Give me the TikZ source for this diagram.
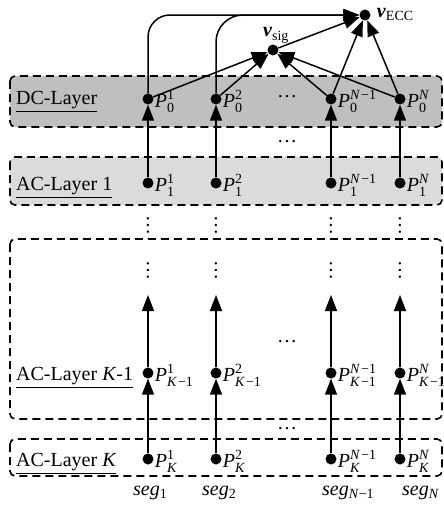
\documentclass[tikz,border=0pt]{standalone}
\usepackage{amsmath}
\usepackage{fontspec}
\setmainfont{Liberation Serif}
\usetikzlibrary{arrows.meta}

\definecolor{dcgray}{gray}{0.75}
\definecolor{acgray}{gray}{0.86}

\tikzset{
  layer/.style={draw=black, dash pattern=on 8pt off 5pt, line width=1.6pt, rounded corners=5pt},
  dot/.style={circle, fill=black, inner sep=0pt, minimum size=11pt},
  flow/.style={line width=1.5pt, -{Triangle[length=16pt,width=12pt]}},
  plab/.style={anchor=base west, inner sep=0pt, xshift=1pt, yshift=-8pt},
  lname/.style={anchor=base west, inner sep=0pt},
}
\newcommand{\pl}[2]{\textit{P}\ensuremath{^{\text{#1}}_{\text{#2}}}}
\newcommand{\vdt}{\rotatebox{90}{\ldots}}

\begin{document}
\begin{tikzpicture}[x=1pt, y=-1pt, font=\fontsize{20}{24}\selectfont]
    \useasboundingbox (0,0) rectangle (444,506);

    % layer boxes
    \draw[layer, fill=dcgray] (10,76) rectangle (442,127);
    \draw[layer, fill=acgray] (10,157) rectangle (442,205);
    \draw[layer] (10,239) rectangle (442,419);
    \draw[layer] (10,439) rectangle (442,476);

    \node[lname] (dcname) at (16,104) {\underline{DC-Layer}};
    \node[lname] (acname1) at (16,190) {\underline{AC-Layer 1}};
    \node[lname] (acnamek1) at (16,380) {\underline{AC-Layer \textit{K}-1}};
    \node[lname] (acnamek) at (16,466) {\underline{AC-Layer \textit{K}}};

    % one column per segment
    \foreach \c/\x/\s in {1/148/1, 2/216/2, 3/331/{\textit{N}\kern1pt−1}, 4/400/{\textit{N}}}{
        \node[dot, label={[plab]0:\pl{\s}{0}}] (p0-\c) at (\x,99) {};
        \node[dot, label={[plab]0:\pl{\s}{1}}] (p1-\c) at (\x,183) {};
        \node[dot, label={[plab]0:\pl{\s}{\textit{K}\kern1pt−1}}] (pk1-\c) at (\x,373) {};
        \node[dot, label={[plab]0:\pl{\s}{\textit{K}}}] (pk-\c) at (\x,459) {};
        \node (vd1-\c) at (\x,225) {\vdt};
        \node (vd2-\c) at (\x,270) {\vdt};
        \coordinate (up-\c) at (\x,295);
        \draw[flow] (pk-\c) -- (pk1-\c);
        \draw[flow] (pk1-\c) -- (up-\c);
        \draw[flow] (p1-\c) -- (p0-\c);
    }

    \node (hd1) at (287,97) {\ldots};
    \node (hd2) at (287,142) {\ldots};
    \node (hd3) at (287,342) {\ldots};
    \node (hd4) at (287,429) {\ldots};

    % segment names
    \node[lname] (seg1) at (133,495) {\textit{seg}\ensuremath{_{\text{1}}}};
    \node[lname] (seg2) at (202,495) {\textit{seg}\ensuremath{_{\text{2}}}};
    \node[lname] (seg3) at (322,495) {\textit{seg}\ensuremath{_{\text{\textit{N}−1}}}};
    \node[lname] (seg4) at (402,495) {\textit{seg}\ensuremath{_{\text{\textit{N}}}}};

    % fusion nodes
    \node[dot, label={[inner sep=1pt, xshift=3pt]90:\textbf{\textit{v}}\ensuremath{_{\text{sig}}}}] (vsig) at (273,50) {};
    \node[dot, label={[anchor=base west, inner sep=0pt, xshift=6pt, yshift=-2pt]0:\textbf{\textit{v}}\ensuremath{_{\text{ECC}}}}] (vecc) at (365,15) {};

    \foreach \c in {1,2,3,4}
        \draw[flow] (p0-\c) -- (vsig);
    \draw[flow] (vsig) -- (vecc);
    \draw[flow] (p0-3) -- (vecc);
    \draw[flow] (p0-4) -- (vecc);
    \draw[flow, rounded corners=22pt] (p0-1) |- (vecc);
    \draw[flow, rounded corners=27pt] (p0-2) |- (vecc);
\end{tikzpicture}
\end{document}
